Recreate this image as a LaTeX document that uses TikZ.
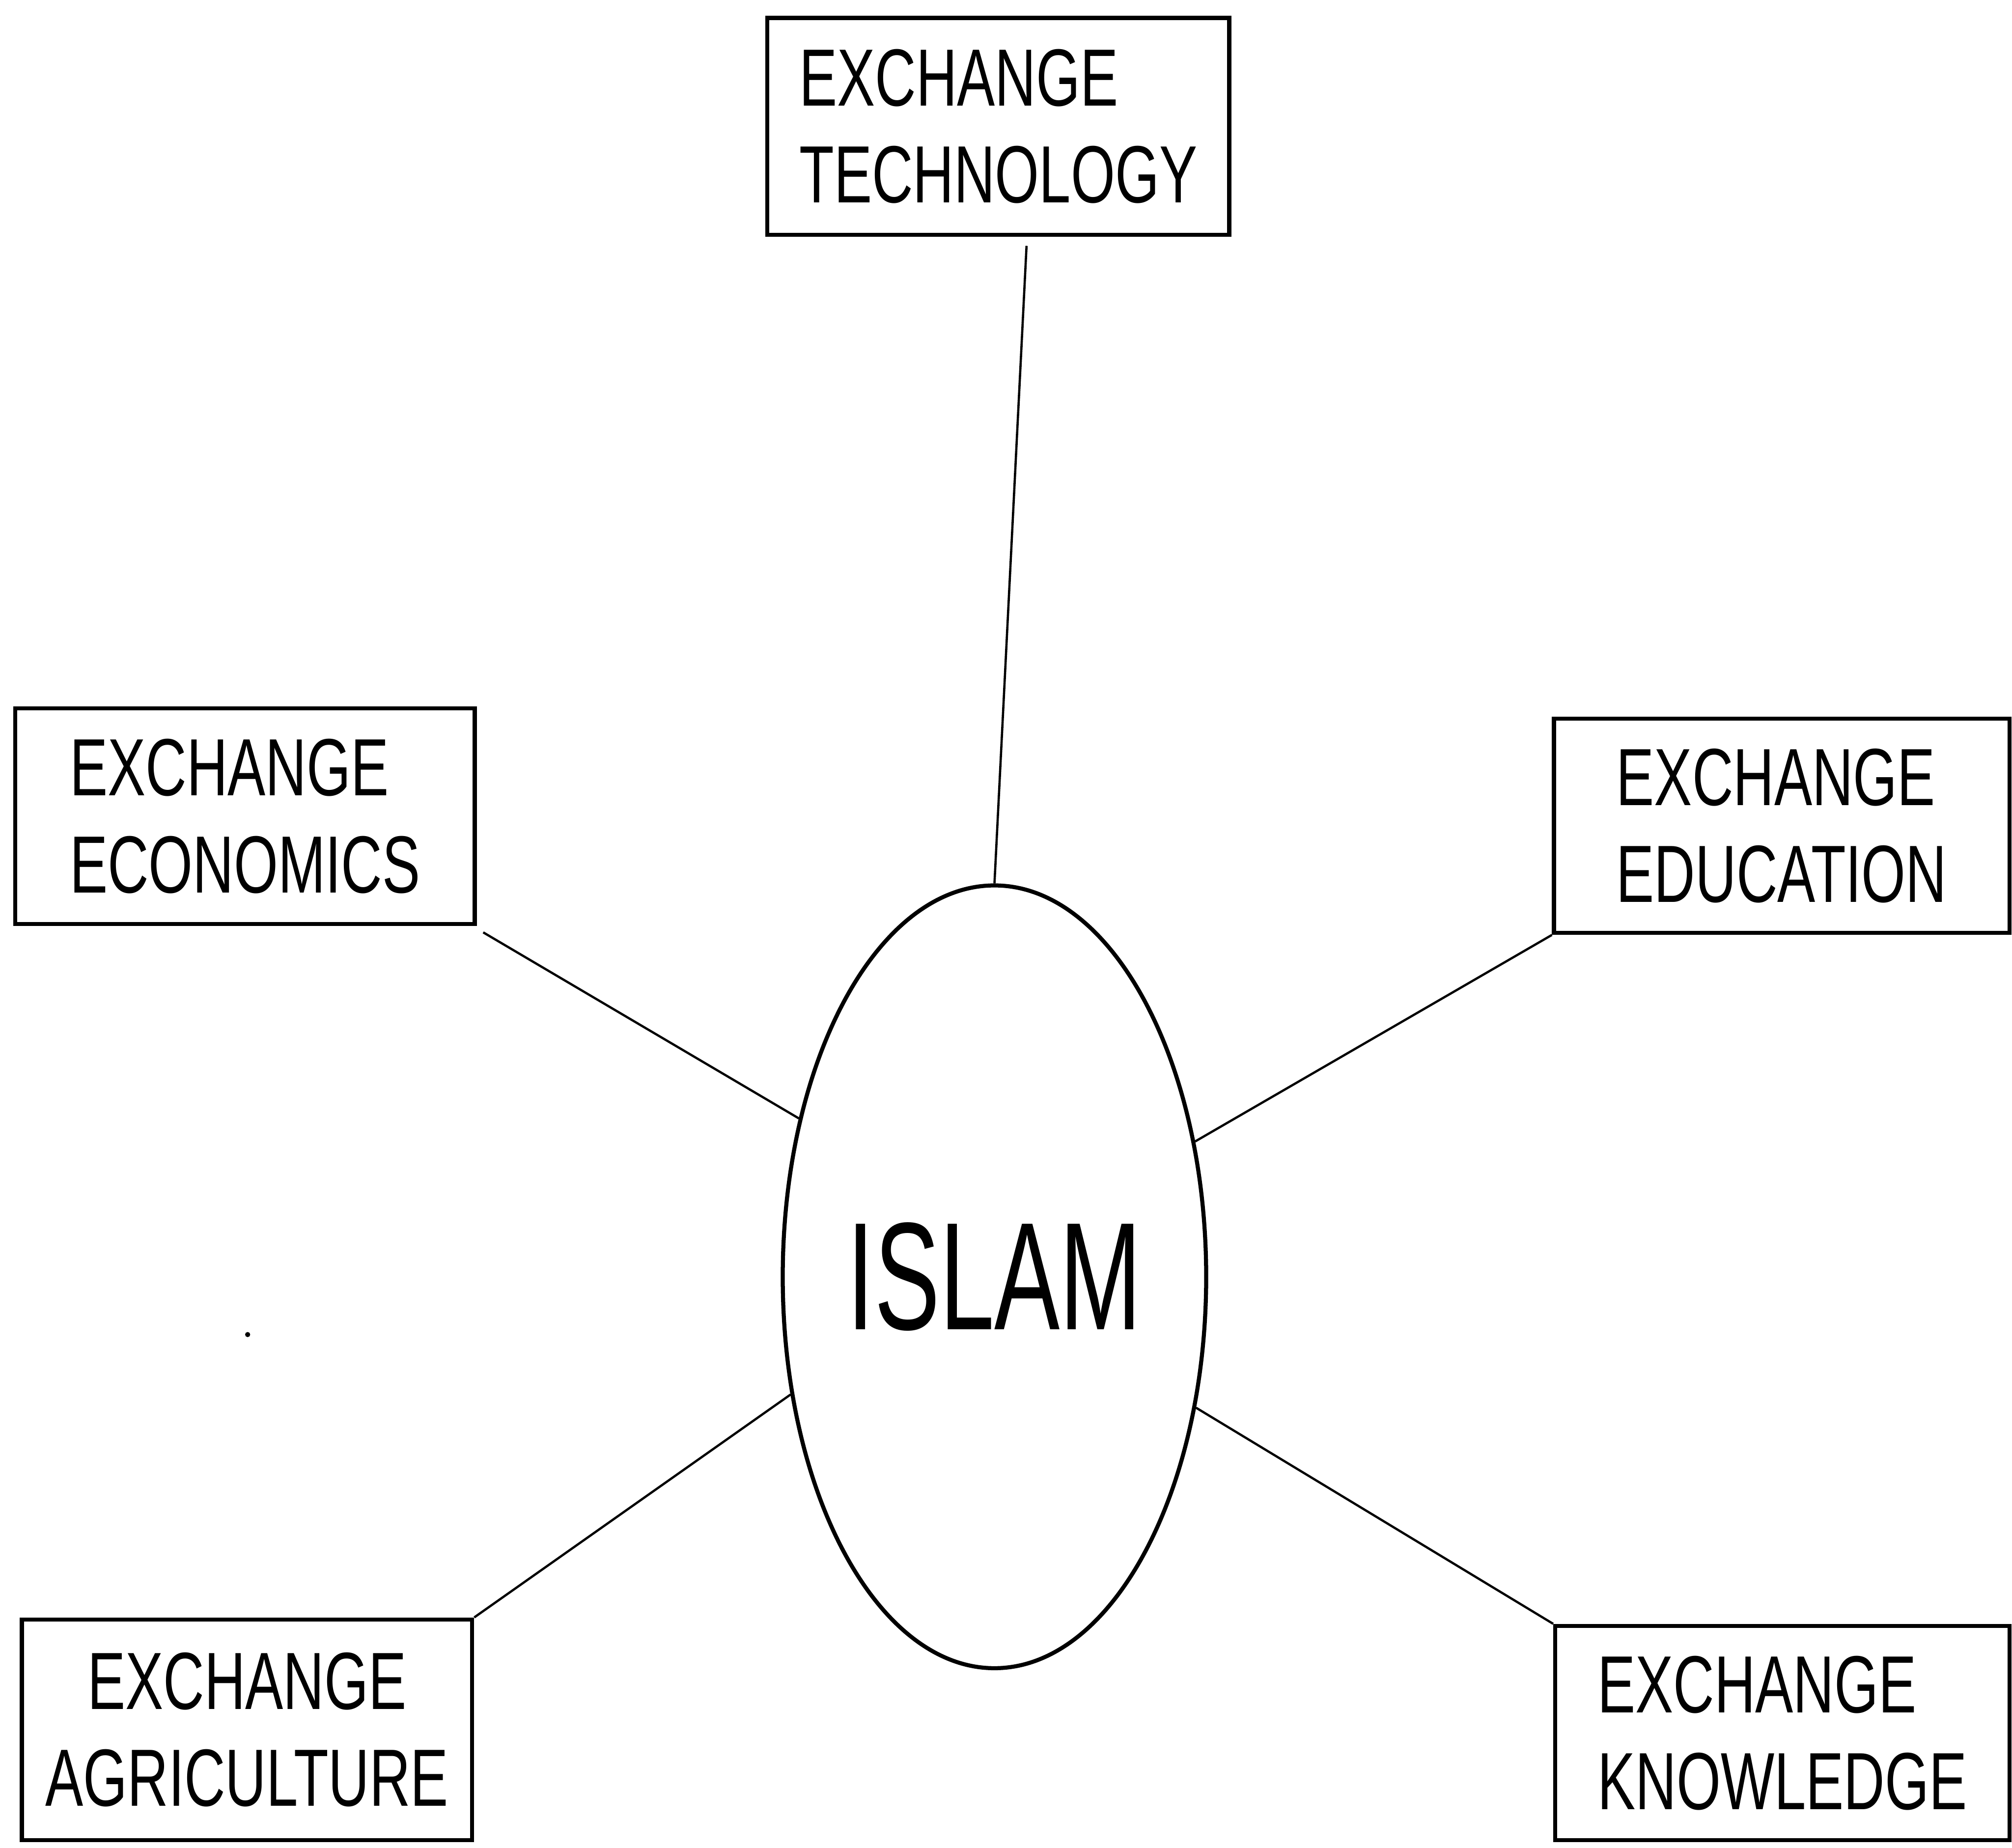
\documentclass[tikz,border=0pt]{standalone}
\usepackage{fontspec}
\usetikzlibrary{shapes.geometric}
\newfontfamily\boxfont[FakeStretch=0.7]{Liberation Sans}
\newfontfamily\islamfont[FakeStretch=0.64]{Liberation Sans}
\begin{document}
\begin{tikzpicture}[
  topic/.style={draw, line width=0.9pt, rectangle, inner sep=0pt, align=left,
    font=\boxfont\fontsize{18}{21.5}\selectfont},
  link/.style={line width=0.5pt}
]
\useasboundingbox (0,0) rectangle (15.68,-14.40);
\node[topic, minimum width=3.60cm, minimum height=1.69cm] (tech) at (7.78,-0.985) {EXCHANGE\\TECHNOLOGY};
\node[topic, minimum width=3.58cm, minimum height=1.68cm] (econ) at (1.91,-6.36) {EXCHANGE\\ECONOMICS};
\node[topic, minimum width=3.55cm, minimum height=1.67cm] (educ) at (13.885,-6.435) {EXCHANGE\\EDUCATION};
\node[topic, align=center, minimum width=3.51cm, minimum height=1.72cm] (agri) at (1.925,-13.48) {EXCHANGE\\AGRICULTURE};
\node[topic, minimum width=3.54cm, minimum height=1.67cm] (know) at (13.89,-13.505) {EXCHANGE\\KNOWLEDGE};
\node[draw, ellipse, line width=0.9pt, inner sep=0pt, minimum width=3.30cm, minimum height=6.10cm,
  font=\islamfont\fontsize{34}{40}\selectfont] (islam) at (7.75,-9.95) {ISLAM};
\draw[link] ([xshift=0.22cm,yshift=-0.07cm]tech.south) -- (islam.north);
\draw[link] ([xshift=0.05cm,yshift=-0.05cm]econ.south east) -- (islam.141.6);
\draw[link] (educ.south west) -- (islam.34.2);
\draw[link] (agri.north east) -- (islam.210.7);
\draw[link] (know.north west) -- (islam.327.5);
\fill (1.93,-10.40) circle (0.02);
\end{tikzpicture}
\end{document}
